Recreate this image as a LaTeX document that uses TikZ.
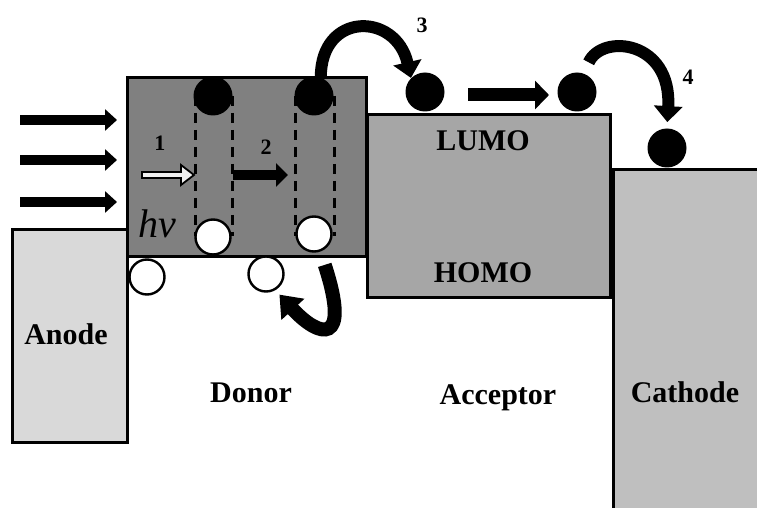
\documentclass[tikz,border=0pt]{standalone}
\usepackage{fontspec}
\setmainfont{Liberation Serif}
\usetikzlibrary{arrows.meta}
\definecolor{anodegray}{RGB}{217,217,217}
\definecolor{donorgray}{RGB}{128,128,128}
\definecolor{accgray}{RGB}{166,166,166}
\definecolor{cathgray}{RGB}{191,191,191}

\begin{document}
\begin{tikzpicture}[
  x=0.5pt, y=-0.5pt,
  level/.style={draw=black, line width=1.5pt},
  elec/.style={circle, fill=black, minimum size=19.5pt, inner sep=0pt},
  hole/.style={circle, draw=black, fill=white, line width=1.2pt,
               minimum size=17.5pt, inner sep=0pt},
  orbit/.style={line width=1.5pt, dash pattern=on 5pt off 3.5pt},
  txt/.style={font=\fontsize{15}{18}\selectfont\bfseries},
  stepno/.style={font=\fontsize{11}{13}\selectfont\bfseries},
  light/.style={-{Triangle[length=6pt,width=10.5pt]}, line width=5pt},
  hop/.style={-{Triangle[length=8pt,width=14pt]}, line width=6pt},
]
\clip (0,0) rectangle (757,508);

%% Energy levels
\draw[level, fill=anodegray] (12,230) rectangle (127,443);
\draw[level, fill=cathgray]  (613,170) rectangle (780,530);
\draw[level, fill=accgray]   (367,115) rectangle (610,298);
\draw[level, fill=donorgray] (127,78) rectangle (366,257);

\node[txt] (anode)    at (66,334)  {Anode};
\node[txt] (donor)    at (251,393) {Donor};
\node[txt] (acceptor) at (498,398) {Acceptor};
\node[txt] (cathode)  at (685,392) {Cathode};
\node[txt] (lumo)     at (483,141) {LUMO};
\node[txt] (homo)     at (483,273) {HOMO};

%% Excitons in the donor
\foreach \x in {195,232,295,334}
  \draw[orbit] (\x,96) -- (\x,236);

\node[elec] (e1) at (213,96)  {};
\node[elec] (e2) at (314,96)  {};
\node[hole] (h1) at (213,237) {};
\node[hole] (h2) at (314,234) {};
\node[hole] (h3) at (147,277) {};
\node[hole] (h4) at (266,274) {};
\node[elec] (e3) at (425,92)  {};
\node[elec] (e4) at (577,92)  {};
\node[elec] (e5) at (667,148) {};

%% Incoming light
\foreach \y [count=\i] in {120,160,202} {
  \coordinate (in\i)  at (20,\y);
  \coordinate (hit\i) at (117,\y);
  \draw[light] (in\i) -- (hit\i);
}
\node[font=\fontsize{20}{24}\selectfont\itshape] (hv) at (157,224) {hv};

%% Steps 1 and 2
\draw[line width=0.9pt, fill=white!88!gray]
  (142,172) -- (181,172) -- (181,165) -- (194,175) -- (181,185)
  -- (181,178) -- (142,178) -- cycle;
\node[stepno] (n1) at (160,143) {1};
\coordinate (s2a) at (233,175);
\coordinate (s2b) at (288,175);
\draw[-{Triangle[length=6pt,width=11.5pt]}, line width=5pt] (s2a) -- (s2b);
\node[stepno] (n2) at (266,147) {2};

%% Step 3: transfer to the acceptor
\draw[hop] (e2.70) .. controls +(0,-66) and +(-15,-66) .. (e3.north west);
\node[stepno] (n3) at (422,25) {3};
\coordinate (ta) at (468,95);
\coordinate (tb) at (549,95);
\draw[-{Triangle[length=7pt,width=14pt]}, line width=6.5pt] (ta) -- (tb);

%% Step 4: collection at the cathode
\draw[hop, shorten <=6pt, shorten >=3pt]
  (e4.70) .. controls +(18,-40) and +(5,-88) .. (e5.north);
\node[stepno] (n4) at (688,77) {4};

%% Hole back to the donor
\draw[-{Triangle[length=10pt,width=15pt]}, line width=7pt,
      shorten <=7pt, shorten >=3pt]
  (h2.-70) .. controls +(31,95) and +(44,48) .. (h4.-60);

\end{tikzpicture}
\end{document}
